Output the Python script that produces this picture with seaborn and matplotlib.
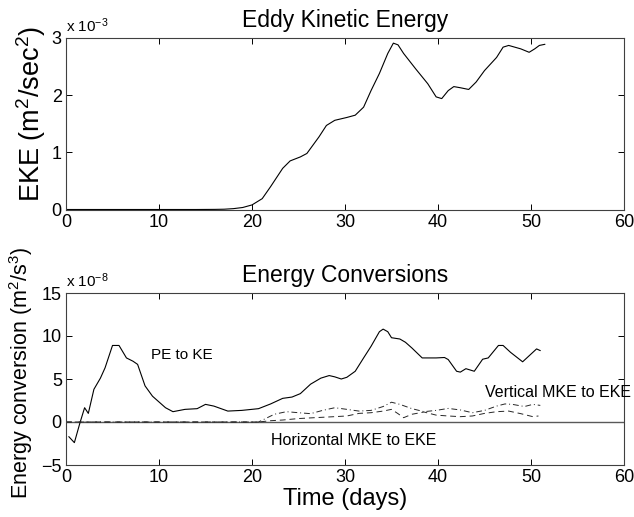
import matplotlib
matplotlib.use("Agg")
import matplotlib.pyplot as plt
import seaborn as sns
import pandas as pd

# ---------------- data ----------------
# Eddy kinetic energy (units of 1e-3 m^2/s^2)
eke_days = [0, 5, 10, 14, 16, 17, 18, 19, 20, 21.1, 22, 23.3, 24.1, 25.2, 25.9,
            27.2, 28, 28.9, 30.2, 31.1, 32, 32.8, 33.7, 34.6, 35.2, 35.7, 36.3,
            37.6, 38.9, 39.8, 40.4, 41.1, 41.7, 42.4, 43.3, 44.1, 45, 46.3, 47,
            47.6, 48.9, 49.8, 50.4, 50.9, 51.5]
eke_vals = [0, 0, 0, 0, 0.002, 0.005, 0.015, 0.035, 0.08, 0.19, 0.4, 0.72, 0.85,
            0.92, 0.98, 1.27, 1.47, 1.56, 1.61, 1.65, 1.79, 2.08, 2.38, 2.73,
            2.91, 2.88, 2.73, 2.46, 2.2, 1.97, 1.94, 2.08, 2.15, 2.13, 2.1, 2.23,
            2.43, 2.66, 2.84, 2.87, 2.81, 2.75, 2.81, 2.87, 2.89]

# PE to KE conversion (units of 1e-8 m^2/s^3)
pe_days = [0.3, 0.9, 1.5, 2.0, 2.4, 3.0, 3.7, 4.2, 5.0, 5.7, 6.5, 7.2, 7.7, 8.5,
           9.3, 10.7, 11.5, 12.8, 14.1, 15.0, 15.9, 17.4, 18.9, 20.7, 22.0,
           23.3, 24.3, 25.2, 26.3, 27.4, 28.3, 28.9, 29.6, 30.2, 31.1, 32.0,
           32.8, 33.7, 34.1, 34.6, 35.0, 35.9, 36.5, 37.2, 38.3, 39.8, 40.7,
           41.1, 42.0, 42.4, 43.0, 43.9, 44.8, 45.4, 46.5, 47.0, 47.8, 49.1,
           50.6, 51.0]
pe_vals = [-1.7, -2.4, -0.1, 1.66, 1.0, 3.8, 5.1, 6.3, 8.9, 8.9, 7.45, 7.07, 6.7,
           4.2, 3.0, 1.66, 1.2, 1.47, 1.55, 2.05, 1.85, 1.27, 1.35, 1.55, 2.1,
           2.75, 2.9, 3.3, 4.4, 5.1, 5.4, 5.25, 5.0, 5.2, 5.9, 7.45, 8.8, 10.5,
           10.8, 10.5, 9.8, 9.65, 9.27, 8.6, 7.45, 7.45, 7.5, 7.26, 5.9, 5.8,
           6.2, 5.9, 7.3, 7.45, 8.9, 8.9, 8.1, 7.0, 8.5, 8.3]

# Vertical MKE to EKE (dash-dot)
vert_days = [0, 20.7, 22.4, 23.7, 25.0, 26.3, 27.6, 28.9, 30.2, 31.5, 32.8, 34.1,
             35.0, 35.9, 37.2, 38.5, 39.8, 41.1, 42.4, 43.7, 45.0, 46.3, 47.2,
             48.0, 49.3, 50.2, 51.0]
vert_vals = [0, 0, 0.9, 1.2, 1.08, 0.97, 1.35, 1.66, 1.47, 1.27, 1.35, 1.8, 2.3,
             2.05, 1.55, 1.2, 1.35, 1.58, 1.4, 1.08, 1.35, 1.85, 2.1, 2.05, 1.8,
             2.05, 1.93]

# Horizontal MKE to EKE (dashed)
horz_days = [0, 20.7, 22.0, 23.3, 25.0, 26.7, 28.5, 30.2, 31.5, 32.8, 34.1, 35.0,
             35.7, 36.3, 37.2, 38.5, 39.8, 41.1, 42.4, 43.7, 45.0, 46.3, 47.6,
             48.9, 50.2, 50.8]
horz_vals = [0, 0, 0.15, 0.23, 0.4, 0.5, 0.6, 0.7, 1.0, 1.08, 1.27, 1.47, 0.97,
             0.5, 0.9, 1.16, 0.8, 0.7, 0.62, 0.7, 1.0, 1.2, 1.27, 0.97, 0.62, 0.7]

x_ticks = [0, 10, 20, 30, 40, 50, 60]
eke_ticks = [0, 1, 2, 3]
conv_ticks = [-5, 0, 5, 10, 15]

# ---------------- style ----------------
sns.set_style("ticks")
plt.rcParams["font.family"] = ["Liberation Sans", "DejaVu Sans"]
plt.rcParams["mathtext.fontset"] = "custom"
plt.rcParams["mathtext.rm"] = "Liberation Sans"
plt.rcParams["mathtext.it"] = "Liberation Sans:italic"
plt.rcParams["mathtext.bf"] = "Liberation Sans:bold"
plt.rcParams["axes.unicode_minus"] = True
plt.rcParams["text.color"] = "black"
plt.rcParams["axes.labelcolor"] = "black"
plt.rcParams["xtick.color"] = "black"
plt.rcParams["ytick.color"] = "black"

fig = plt.figure(figsize=(6.34, 5.17), dpi=100)
ax1 = fig.add_axes([66 / 634, 1 - 209.5 / 517, 558 / 634, 171.5 / 517])
ax2 = fig.add_axes([66 / 634, 1 - 465 / 517, 558 / 634, 172 / 517])

lc = "black"
lw = 0.8

df_eke = pd.DataFrame({"day": eke_days, "val": eke_vals})
sns.lineplot(data=df_eke, x="day", y="val", ax=ax1, color=lc, lw=lw,
             estimator=None, sort=False)

ax2.axhline(0, color="0.35", lw=1.0, zorder=1)
df_pe = pd.DataFrame({"day": pe_days, "val": pe_vals})
sns.lineplot(data=df_pe, x="day", y="val", ax=ax2, color=lc, lw=lw,
             estimator=None, sort=False)
df_v = pd.DataFrame({"day": vert_days, "val": vert_vals})
sns.lineplot(data=df_v, x="day", y="val", ax=ax2, color="0.15", lw=0.7,
             estimator=None, sort=False, linestyle=(0, (6, 3, 1, 3)))
df_h = pd.DataFrame({"day": horz_days, "val": horz_vals})
sns.lineplot(data=df_h, x="day", y="val", ax=ax2, color="0.15", lw=0.7,
             estimator=None, sort=False, linestyle=(0, (6, 4)))

for ax in (ax1, ax2):
    ax.set_xlim(0, 60)
    ax.set_xticks(x_ticks)
    ax.tick_params(direction="in", length=4, width=0.7, labelsize=13,
                   top=True, right=True, colors="black", pad=3)
    for s in ax.spines.values():
        s.set_visible(True)
        s.set_linewidth(0.8)
        s.set_color("0.25")
    ax.set_xlabel("")

ax1.set_ylim(0, 3)
ax1.set_yticks(eke_ticks)
ax1.set_ylabel(r"EKE (m$^2$/sec$^2$)", fontsize=19.5, color="black")
ax1.yaxis.set_label_coords(-0.033, 0.555)
ax1.set_title("Eddy Kinetic Energy", fontsize=16.5, pad=8, color="black")
ax1.text(0.0, 1.015, r"x 10$^{-3}$", transform=ax1.transAxes, fontsize=11,
         ha="left", va="bottom", color="black")

ax2.set_ylim(-5, 15)
ax2.set_yticks(conv_ticks)
ax2.set_ylabel(r"Energy conversion (m$^2$/s$^3$)", fontsize=15.5, color="black")
ax2.yaxis.set_label_coords(-0.056, 0.535)
ax2.set_xlabel("Time (days)", fontsize=17, labelpad=1, color="black")
ax2.set_title("Energy Conversions", fontsize=16.5, pad=8, color="black")
ax2.text(0.0, 1.015, r"x 10$^{-8}$", transform=ax2.transAxes, fontsize=11,
         ha="left", va="bottom", color="black")

ax2.text(9.1, 7.8, "PE to KE", fontsize=11, ha="left", va="center", color="black")
ax2.text(45.0, 3.4, "Vertical MKE to EKE", fontsize=11.5, ha="left", va="center",
         clip_on=False, color="black")
ax2.text(22.0, -2.2, "Horizontal MKE to EKE", fontsize=11.5, ha="left",
         va="center", color="black")

fig.savefig("out.png", dpi=100)
